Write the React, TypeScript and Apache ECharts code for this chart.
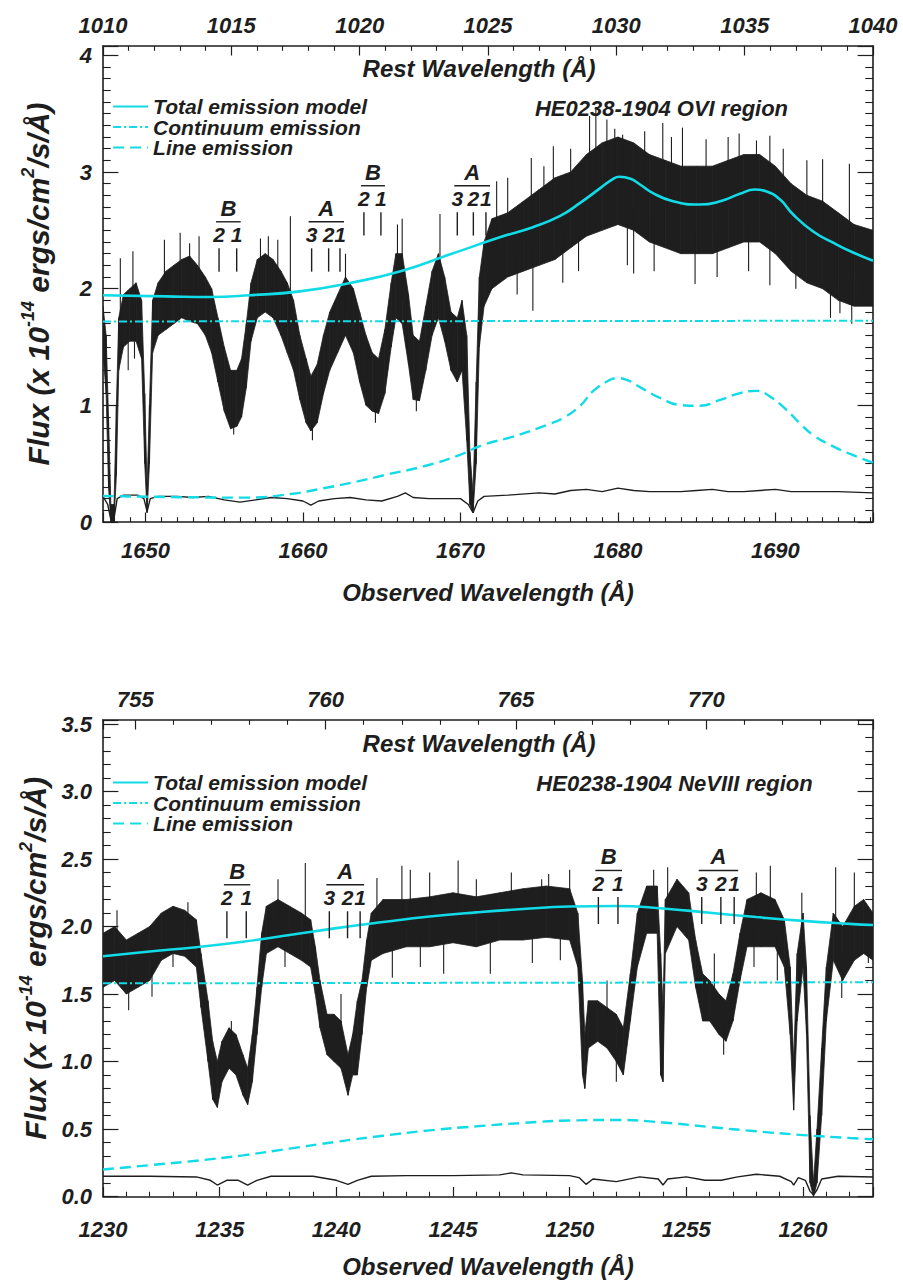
import React, { useEffect, useRef } from 'react';
import * as echarts from 'echarts';

const FONT = '"Liberation Sans", Arial, Helvetica, sans-serif';
const INK = '#1e1e1e';
const CYAN = '#12dbe8';

// ---------------- OVI panel (top) ----------------
const OVI_OBS_RANGE = [1647.3, 1696.2];
const OVI_REST_RANGE = [1010, 1040];
const OVI_FLUX_RANGE = [0, 4.08];

const OVI_SPEC_X = [1647.3, 1647.5, 1647.65, 1647.8, 1648.0, 1648.15, 1648.3, 1648.6, 1649.0, 1649.4, 1649.75, 1649.95, 1650.1, 1650.25, 1650.45, 1650.8, 1651.3, 1651.8, 1652.3, 1652.8, 1653.3, 1653.8, 1654.2, 1654.6, 1655.0, 1655.4, 1655.8, 1656.1, 1656.4, 1656.7, 1657.1, 1657.6, 1658.1, 1658.6, 1659.0, 1659.4, 1659.8, 1660.2, 1660.5, 1660.9, 1661.3, 1661.7, 1662.2, 1662.7, 1663.2, 1663.6, 1664.0, 1664.4, 1664.8, 1665.2, 1665.6, 1665.9, 1666.3, 1666.7, 1667.0, 1667.4, 1667.8, 1668.2, 1668.6, 1669.0, 1669.4, 1669.8, 1670.1, 1670.4, 1670.6, 1670.8, 1671.0, 1671.2, 1671.5, 1672, 1673, 1674, 1675, 1676, 1677, 1678, 1679, 1680, 1681, 1682, 1683, 1684, 1685, 1686, 1687, 1688, 1689, 1690, 1691, 1692, 1693, 1694, 1695, 1696.2];
const OVI_SPEC_LO = [1.45, 1.1, 0.3, 0.0, 0.0, 0.4, 1.3, 1.5, 1.55, 1.55, 1.4, 0.5, 0.08, 0.5, 1.45, 1.6, 1.65, 1.7, 1.75, 1.72, 1.7, 1.6, 1.45, 1.2, 0.95, 0.8, 0.82, 0.9, 1.15, 1.55, 1.75, 1.8, 1.75, 1.6, 1.45, 1.3, 1.05, 0.85, 0.78, 0.85, 1.1, 1.3, 1.45, 1.6, 1.45, 1.2, 1.0, 0.95, 0.93, 1.1, 1.5, 1.75, 1.7, 1.35, 1.05, 1.04, 1.3, 1.6, 1.75, 1.55, 1.3, 1.2, 1.3, 0.7, 0.15, 0.08, 0.5, 1.5, 1.85, 2.0, 2.1, 2.15, 2.2, 2.25, 2.35, 2.45, 2.5, 2.55, 2.5, 2.4, 2.35, 2.3, 2.3, 2.3, 2.35, 2.4, 2.4, 2.3, 2.15, 2.05, 2.0, 1.9, 1.85, 1.85];
const OVI_SPEC_HI = [1.85, 1.6, 0.9, 0.15, 0.15, 1.0, 1.75, 1.95, 2.0, 2.05, 1.9, 1.1, 0.3, 1.0, 1.9, 2.05, 2.15, 2.2, 2.25, 2.28, 2.2, 2.1, 2.0, 1.75, 1.5, 1.3, 1.3, 1.4, 1.7, 2.05, 2.25, 2.3, 2.25, 2.15, 2.05, 1.9, 1.6, 1.4, 1.25, 1.35, 1.6, 1.8, 1.95, 2.1, 2.0, 1.8, 1.6, 1.45, 1.4, 1.65, 2.05, 2.3, 2.3, 1.95, 1.6, 1.55, 1.85, 2.15, 2.3, 2.1, 1.8, 1.75, 1.9, 1.6, 0.6, 0.25, 1.2, 2.1, 2.4, 2.6, 2.65, 2.75, 2.85, 2.95, 3.0, 3.15, 3.25, 3.3, 3.25, 3.15, 3.1, 3.05, 3.05, 3.05, 3.1, 3.15, 3.15, 3.05, 2.9, 2.8, 2.75, 2.65, 2.55, 2.5];
// noise spikes: [wavelength, from, to]
const OVI_SPIKES = [
  [1648.4, 1.7, 2.26], [1649.2, 1.7, 2.32], [1648.9, 1.7, 1.3], [1649.3, 1.7, 1.4], [1651.2, 1.9, 2.42],
  [1652.2, 1.9, 2.48], [1652.8, 1.9, 2.39], [1653.4, 1.9, 2.45], [1655.6, 1.0, 0.75], [1657.3, 1.9, 2.43],
  [1657.8, 2.0, 2.45], [1658.4, 1.9, 2.42], [1659.2, 1.8, 2.62], [1660.6, 1.0, 0.7], [1662.7, 1.8, 2.3],
  [1664.6, 1.1, 0.85], [1666.0, 2.0, 2.55], [1666.3, 1.9, 2.6], [1667.2, 1.2, 0.95], [1668.7, 1.9, 2.64],
  [1672.3, 2.3, 2.92], [1673.0, 2.4, 2.95], [1673.6, 2.3, 1.95], [1674.5, 2.5, 3.12], [1674.6, 2.4, 1.81],
  [1675.3, 2.5, 3.05], [1675.9, 2.6, 3.22], [1676.5, 2.5, 2.05], [1677.0, 2.7, 3.2], [1677.5, 2.6, 2.15],
  [1678.2, 2.8, 3.48], [1678.6, 2.8, 3.55], [1679.3, 2.8, 3.45], [1679.8, 2.9, 3.37], [1680.3, 2.9, 3.32],
  [1680.6, 2.7, 2.2], [1681.0, 2.7, 2.13], [1681.7, 2.8, 3.35], [1682.3, 2.6, 2.15], [1682.85, 2.8, 3.42],
  [1683.4, 2.7, 3.3], [1684.1, 2.7, 3.38], [1684.9, 2.5, 2.04], [1685.6, 2.7, 3.28], [1686.3, 2.5, 2.1],
  [1687.0, 2.7, 3.3], [1687.7, 2.7, 3.33], [1688.3, 2.6, 2.15], [1688.8, 2.8, 3.27], [1689.65, 2.8, 3.31],
  [1689.65, 2.5, 2.03], [1690.5, 2.7, 3.2], [1691.3, 2.5, 2.0], [1692.0, 2.6, 3.1], [1693.0, 2.5, 3.11],
  [1693.5, 2.1, 1.75], [1694.1, 2.1, 1.79], [1694.7, 2.4, 3.07], [1694.85, 2.1, 1.7], [1695.5, 2.1, 1.9],
];
const OVI_ERR_X = [1647.3, 1647.6, 1647.8, 1648.0, 1648.2, 1648.6, 1649.5, 1649.9, 1650.1, 1650.3, 1650.8, 1652, 1653, 1654, 1655, 1656, 1657, 1658, 1659, 1660, 1660.5, 1661, 1662, 1663, 1664, 1665, 1666, 1666.5, 1667, 1668, 1669, 1670, 1670.5, 1670.8, 1671.1, 1671.5, 1673, 1675, 1676, 1677, 1678, 1679, 1680, 1681, 1682, 1684, 1685, 1686, 1687, 1688, 1689, 1690, 1691, 1692, 1694, 1696.2];
const OVI_ERR = [0.22, 0.15, 0.02, 0.03, 0.2, 0.23, 0.23, 0.2, 0.09, 0.2, 0.22, 0.22, 0.21, 0.22, 0.19, 0.17, 0.19, 0.21, 0.2, 0.18, 0.145, 0.18, 0.2, 0.21, 0.19, 0.18, 0.22, 0.25, 0.21, 0.2, 0.2, 0.2, 0.15, 0.08, 0.18, 0.22, 0.23, 0.25, 0.24, 0.27, 0.28, 0.26, 0.29, 0.27, 0.26, 0.26, 0.27, 0.28, 0.26, 0.26, 0.27, 0.28, 0.26, 0.26, 0.26, 0.25];
const OVI_TOTAL_X = [1647.3, 1651.3, 1654.1, 1656.6, 1659.8, 1663.0, 1666.2, 1669.3, 1672.5, 1674.6, 1676.3, 1677.6, 1678.9, 1679.7, 1680.1, 1680.8, 1681.4, 1682.2, 1683.5, 1685.2, 1686.5, 1687.75, 1688.7, 1689.4, 1690.3, 1691.1, 1692.4, 1693.7, 1694.9, 1696.2];
const OVI_TOTAL = [1.943, 1.934, 1.929, 1.943, 1.977, 2.049, 2.149, 2.292, 2.44, 2.527, 2.621, 2.735, 2.864, 2.942, 2.959, 2.942, 2.893, 2.821, 2.749, 2.721, 2.749, 2.813, 2.85, 2.835, 2.764, 2.64, 2.49, 2.392, 2.312, 2.24];
const OVI_CONT_X = [1647.3, 1672, 1696.2];
const OVI_CONT = [1.719, 1.722, 1.725];
const OVI_LINE_X = [1647.3, 1652.8, 1656.6, 1659.2, 1661.3, 1663.4, 1665.5, 1667.6, 1669.8, 1671.45, 1673.35, 1675.5, 1676.5, 1677.6, 1678.4, 1679.3, 1679.9, 1680.55, 1681.4, 1682.7, 1683.9, 1685.2, 1686.5, 1687.75, 1688.8, 1689.65, 1690.7, 1691.6, 1692.4, 1693.7, 1694.9, 1696.2];
const OVI_LINE = [0.223, 0.212, 0.209, 0.24, 0.289, 0.346, 0.412, 0.475, 0.567, 0.661, 0.732, 0.833, 0.89, 0.996, 1.119, 1.204, 1.233, 1.219, 1.156, 1.062, 1.004, 0.996, 1.047, 1.105, 1.124, 1.076, 0.961, 0.84, 0.745, 0.646, 0.575, 0.509];
const OVI_MARKS = [
  { letter: 'B', ticks: [1654.67, 1655.79], nums: ['2', '1'], base: 2.146 },
  { letter: 'A', ticks: [1660.55, 1661.63, 1662.35], nums: ['3', '2', '1'], base: 2.146 },
  { letter: 'B', ticks: [1663.87, 1664.95], nums: ['2', '1'], base: 2.455 },
  { letter: 'A', ticks: [1669.8, 1670.82, 1671.62], nums: ['3', '2', '1'], base: 2.455 },
];

// ---------------- NeVIII panel (bottom) ----------------
const NE_OBS_RANGE = [1230, 1263];
const NE_REST_RANGE = [754.15, 774.38];
const NE_FLUX_RANGE = [0, 3.53];

const NE_SPEC_X = [1230.0, 1230.5, 1231.0, 1231.5, 1232.0, 1232.5, 1233.0, 1233.5, 1234.0, 1234.2, 1234.5, 1234.7, 1234.9, 1235.1, 1235.4, 1235.7, 1236.0, 1236.2, 1236.4, 1236.6, 1236.8, 1237.0, 1237.5, 1238.0, 1238.5, 1238.9, 1239.1, 1239.3, 1239.6, 1239.9, 1240.2, 1240.5, 1240.7, 1240.9, 1241.1, 1241.3, 1241.5, 1242.0, 1243.0, 1244.0, 1245.0, 1246.0, 1247.0, 1248.0, 1249.0, 1250.0, 1250.35, 1250.55, 1250.65, 1250.8, 1251.2, 1251.6, 1252.0, 1252.3, 1252.6, 1252.9, 1253.3, 1253.75, 1253.9, 1254.0, 1254.1, 1254.6, 1255.1, 1255.4, 1255.7, 1256.0, 1256.4, 1256.7, 1257.0, 1257.3, 1257.6, 1258.2, 1258.8, 1259.2, 1259.45, 1259.6, 1259.75, 1260.0, 1260.15, 1260.3, 1260.45, 1260.6, 1260.8, 1261.0, 1261.3, 1261.7, 1262.2, 1262.6, 1263.0];
const NE_SPEC_LO = [1.55, 1.6, 1.5, 1.55, 1.6, 1.75, 1.8, 1.78, 1.7, 1.4, 1.0, 0.72, 0.66, 0.85, 0.95, 0.9, 0.75, 0.68, 0.85, 1.2, 1.55, 1.8, 1.85, 1.8, 1.75, 1.7, 1.5, 1.25, 1.05, 1.0, 0.95, 0.75, 0.9, 0.9, 1.2, 1.55, 1.75, 1.8, 1.85, 1.85, 1.88, 1.85, 1.9, 1.9, 1.92, 1.9, 1.7, 0.9, 0.8, 1.1, 1.15, 1.1, 1.0, 0.9, 1.3, 1.7, 1.95, 1.95, 0.9, 0.85, 1.8, 2.0, 1.9, 1.55, 1.3, 1.3, 1.2, 1.15, 1.3, 1.6, 1.85, 1.85, 1.85, 1.7, 1.2, 0.64, 1.3, 1.7, 1.2, 0.1, 0.0, 0.1, 0.6, 1.3, 1.75, 1.6, 1.75, 1.8, 1.75];
const NE_SPEC_HI = [1.95, 2.0, 1.9, 1.95, 2.0, 2.1, 2.15, 2.12, 2.05, 1.8, 1.45, 1.15, 1.0, 1.15, 1.25, 1.2, 1.05, 0.95, 1.2, 1.55, 1.95, 2.15, 2.2, 2.15, 2.1, 2.05, 1.85, 1.6, 1.35, 1.35, 1.3, 1.05, 1.2, 1.45, 1.6, 1.9, 2.1, 2.2, 2.2, 2.22, 2.25, 2.22, 2.25, 2.28, 2.3, 2.28, 2.1, 1.6, 1.2, 1.45, 1.45, 1.4, 1.35, 1.25, 1.65, 2.1, 2.3, 2.3, 1.8, 1.4, 2.2, 2.35, 2.25, 1.9, 1.65, 1.6, 1.5, 1.45, 1.65, 1.95, 2.2, 2.25, 2.2, 2.05, 1.7, 1.0, 1.8, 2.1, 1.7, 0.6, 0.1, 0.5, 1.1, 1.7, 2.1, 2.0, 2.15, 2.2, 2.1];
const NE_SPIKES = [
  [1230.6, 1.8, 2.12], [1231.1, 1.7, 1.38], [1232.1, 1.7, 1.48], [1233.0, 1.9, 1.7], [1233.64, 2.0, 2.18],
  [1235.5, 1.1, 1.3], [1237.5, 2.0, 2.35], [1237.8, 1.95, 1.7], [1238.67, 2.0, 2.47], [1240.2, 1.2, 1.5],
  [1241.74, 2.0, 2.36], [1242.4, 1.9, 1.62], [1242.81, 2.1, 2.45], [1243.17, 2.1, 2.42], [1243.6, 1.95, 1.7],
  [1244.0, 2.1, 2.4], [1244.6, 1.95, 1.65], [1245.22, 2.1, 2.49], [1246.0, 2.1, 2.35], [1246.6, 1.9, 1.65],
  [1247.5, 2.1, 2.4], [1248.4, 1.95, 1.73], [1248.8, 2.1, 2.35], [1249.1, 2.1, 2.39], [1249.6, 1.95, 1.75],
  [1250.0, 2.1, 2.42], [1251.6, 1.3, 1.6], [1252.0, 1.1, 0.85], [1253.6, 2.1, 2.42], [1254.2, 2.1, 2.44],
  [1256.2, 1.5, 1.8], [1256.6, 1.3, 1.05], [1257.9, 2.0, 1.7], [1258.0, 2.1, 2.4], [1258.6, 2.1, 2.45],
  [1258.9, 1.95, 1.6], [1259.95, 2.0, 2.25], [1261.4, 2.0, 2.44], [1261.66, 1.8, 1.47], [1262.2, 2.0, 2.4],
  [1262.8, 1.9, 1.73],
];
const NE_ERR_X = [1230, 1232, 1234, 1234.6, 1234.9, 1235.3, 1235.8, 1236.2, 1236.6, 1237.2, 1239, 1240, 1240.5, 1240.9, 1241.5, 1243, 1245, 1247, 1247.5, 1248, 1250, 1250.4, 1250.7, 1251, 1252, 1253, 1253.8, 1254, 1254.2, 1255, 1255.8, 1256.5, 1257.2, 1258, 1259, 1259.5, 1259.6, 1259.8, 1260.1, 1260.3, 1260.45, 1260.6, 1260.8, 1261.5, 1263];
const NE_ERR = [0.15, 0.15, 0.145, 0.12, 0.085, 0.12, 0.12, 0.085, 0.12, 0.15, 0.15, 0.12, 0.09, 0.12, 0.15, 0.155, 0.155, 0.16, 0.175, 0.16, 0.155, 0.14, 0.09, 0.13, 0.11, 0.145, 0.13, 0.085, 0.13, 0.145, 0.12, 0.12, 0.145, 0.165, 0.15, 0.11, 0.085, 0.14, 0.12, 0.04, 0.01, 0.05, 0.13, 0.15, 0.145];
const NE_TOTAL_X = [1230, 1232, 1234, 1236, 1238, 1240, 1242, 1244, 1246, 1248, 1250, 1252, 1254, 1256, 1258, 1260, 1262, 1263];
const NE_TOTAL = [1.78, 1.815, 1.847, 1.887, 1.937, 1.988, 2.033, 2.074, 2.105, 2.13, 2.148, 2.152, 2.134, 2.102, 2.07, 2.042, 2.02, 2.011];
const NE_CONT_X = [1230, 1246, 1263];
const NE_CONT = [1.579, 1.583, 1.587];
const NE_LINE_X = [1230, 1232, 1234, 1236, 1238, 1240, 1242, 1244, 1246, 1248, 1250, 1252, 1254, 1256, 1258, 1260, 1262, 1263];
const NE_LINE = [0.2, 0.232, 0.265, 0.305, 0.355, 0.405, 0.45, 0.49, 0.52, 0.545, 0.563, 0.567, 0.548, 0.515, 0.483, 0.455, 0.433, 0.424];
const NE_MARKS = [
  { letter: 'B', ticks: [1235.31, 1236.14], nums: ['2', '1'], base: 1.913 },
  { letter: 'A', ticks: [1239.7, 1240.48, 1241.02], nums: ['3', '2', '1'], base: 1.913 },
  { letter: 'B', ticks: [1251.23, 1252.07], nums: ['2', '1'], base: 2.019 },
  { letter: 'A', ticks: [1255.66, 1256.48, 1257.05], nums: ['3', '2', '1'], base: 2.019 },
];

const LEGEND_NAMES = ['Total emission model', 'Continuum emission', 'Line emission'];
const Y_TITLE = '{n|Flux (x 10}{s|-14}{n| ergs/cm}{s|2}{n|/s/Å)}';

const zip = (xs: number[], ys: number[]) => xs.map((x, i) => [x, ys[i]]);

const txt = {
  fontFamily: FONT,
  fontStyle: 'italic' as const,
  fontWeight: 'bold' as const,
  color: INK,
};

function bandSeries(xi: number, xs: number[], lo: number[], hi: number[]) {
  const n = xs.length;
  return {
    type: 'custom',
    xAxisIndex: xi,
    yAxisIndex: xi,
    clip: true,
    silent: true,
    encode: { x: 0, y: 1 },
    data: xs.map((x, i) => [x, lo[i], hi[i]]),
    renderItem: (params: any, api: any) => {
      const i = params.dataIndexInside;
      if (i >= n - 1) return null;
      const a = api.coord([api.value(0), api.value(2)]);
      const b = api.coord([api.value(0, i + 1), api.value(2, i + 1)]);
      const c = api.coord([api.value(0, i + 1), api.value(1, i + 1)]);
      const d = api.coord([api.value(0), api.value(1)]);
      return {
        type: 'polygon',
        shape: { points: [a, b, c, d] },
        style: { fill: INK, stroke: INK, lineWidth: 0.8, lineJoin: 'round' },
      };
    },
    z: 2,
  };
}

function spikeSeries(xi: number, spikes: number[][]) {
  return {
    type: 'custom',
    xAxisIndex: xi,
    yAxisIndex: xi,
    clip: true,
    silent: true,
    encode: { x: 0, y: 1 },
    data: spikes,
    renderItem: (params: any, api: any) => {
      const p = api.coord([api.value(0), api.value(1)]);
      const q = api.coord([api.value(0), api.value(2)]);
      return {
        type: 'line',
        shape: { x1: p[0], y1: p[1], x2: q[0], y2: q[1] },
        style: { stroke: INK, lineWidth: 1.1 },
      };
    },
    z: 2,
  };
}

function markSeries(xi: number, marks: any[]) {
  return {
    type: 'custom',
    xAxisIndex: xi,
    yAxisIndex: xi,
    silent: true,
    encode: { x: 0, y: 1 },
    data: marks.map((m) => [m.ticks[0], m.base]),
    renderItem: (params: any, api: any) => {
      const m = marks[params.dataIndex];
      const children: any[] = [];
      let topY = 0;
      const xsPix: number[] = [];
      m.ticks.forEach((t: number, k: number) => {
        const p0 = api.coord([t, m.base]);
        const p1 = api.coord([t, m.base + 0.2]);
        topY = p1[1];
        xsPix.push(p0[0]);
        children.push({
          type: 'line',
          shape: { x1: p0[0], y1: p0[1], x2: p1[0], y2: p1[1] },
          style: { stroke: INK, lineWidth: 1.4 },
        });
        children.push({
          type: 'text',
          x: p0[0],
          y: p1[1] - 13.5,
          style: {
            text: m.nums[k],
            fill: INK,
            fontFamily: FONT,
            fontStyle: 'italic',
            fontWeight: 'bold',
            fontSize: 21,
            align: 'center',
            verticalAlign: 'middle',
          },
        });
      });
      const barY = topY - 13.5 - 13;
      const xl = xsPix[0] - 3;
      const xr = xsPix[xsPix.length - 1] + 4;
      children.push({
        type: 'line',
        shape: { x1: xl, y1: barY, x2: xr, y2: barY },
        style: { stroke: INK, lineWidth: 1.4 },
      });
      children.push({
        type: 'text',
        x: (xl + xr) / 2,
        y: barY - 13.5,
        style: {
          text: m.letter,
          fill: INK,
          fontFamily: FONT,
          fontStyle: 'italic',
          fontWeight: 'bold',
          fontSize: 22,
          align: 'center',
          verticalAlign: 'middle',
        },
      });
      return { type: 'group', children };
    },
    z: 6,
  };
}

function modelSeries(xi: number, tx: number[], tv: number[], cx: number[], cv: number[], lx: number[], lv: number[]) {
  return [
    {
      type: 'line',
      name: LEGEND_NAMES[0],
      xAxisIndex: xi,
      yAxisIndex: xi,
      data: zip(tx, tv),
      symbol: 'none',
      smooth: 0.5,
      lineStyle: { color: CYAN, width: 2.6 },
      itemStyle: { color: CYAN },
      z: 5,
    },
    {
      type: 'line',
      name: LEGEND_NAMES[1],
      xAxisIndex: xi,
      yAxisIndex: xi,
      data: zip(cx, cv),
      symbol: 'none',
      lineStyle: { color: CYAN, width: 2, type: [8, 3, 2, 3] },
      itemStyle: { color: CYAN },
      z: 5,
    },
    {
      type: 'line',
      name: LEGEND_NAMES[2],
      xAxisIndex: xi,
      yAxisIndex: xi,
      data: zip(lx, lv),
      symbol: 'none',
      smooth: 0.5,
      lineStyle: { color: CYAN, width: 2.4, type: [11, 6] },
      itemStyle: { color: CYAN },
      z: 5,
    },
  ];
}

function errSeries(xi: number, xs: number[], vs: number[]) {
  return {
    type: 'line',
    xAxisIndex: xi,
    yAxisIndex: xi,
    data: zip(xs, vs),
    symbol: 'none',
    silent: true,
    lineStyle: { color: INK, width: 1.4 },
    z: 3,
  };
}

const isMult = (v: number, step: number) => Math.abs(v / step - Math.round(v / step)) < 1e-6;

function xAxes(grid: number, obs: number[], rest: number[], obsStep: number, obsMinor: number, bottomMargin: number) {
  const line = { onZero: false, lineStyle: { color: INK, width: 1.6 } };
  return [
    {
      type: 'value',
      gridIndex: grid,
      position: 'bottom',
      min: obs[0],
      max: obs[1],
      splitNumber: Math.round((obs[1] - obs[0]) / obsStep),
      axisLine: line,
      axisTick: { inside: true, length: 9.5, lineStyle: { color: INK, width: 1.2 } },
      minorTick: { show: true, splitNumber: obsMinor, length: 4.8, lineStyle: { color: INK, width: 1.1 } },
      splitLine: { show: false },
      minorSplitLine: { show: false },
      axisLabel: {
        ...txt,
        fontSize: 22,
        margin: bottomMargin,
        formatter: (v: number) => (isMult(v, obsStep) ? String(Math.round(v)) : ''),
      },
      name: 'Observed Wavelength (Å)',
      nameLocation: 'middle',
      nameGap: 58,
      nameTextStyle: { ...txt, fontSize: 24 },
    },
    {
      type: 'value',
      gridIndex: grid,
      position: 'top',
      min: rest[0],
      max: rest[1],
      splitNumber: Math.round((rest[1] - rest[0]) / 5),
      axisLine: line,
      axisTick: { inside: true, length: 9.5, lineStyle: { color: INK, width: 1.2 } },
      minorTick: { show: true, splitNumber: 5, length: 4.8, lineStyle: { color: INK, width: 1.1 } },
      splitLine: { show: false },
      minorSplitLine: { show: false },
      axisLabel: {
        ...txt,
        fontSize: 22,
        margin: 10,
        formatter: (v: number) => (isMult(v, 5) ? String(Math.round(v)) : ''),
      },
    },
  ];
}

function yAxes(grid: number, range: number[], step: number, minor: number, digits: number) {
  const line = { onZero: false, lineStyle: { color: INK, width: 1.6 } };
  const base = {
    type: 'value',
    gridIndex: grid,
    min: range[0],
    max: range[1],
    interval: step,
    axisLine: line,
    axisTick: { inside: true, length: 15.4, lineStyle: { color: INK, width: 1.2 } },
    minorTick: { show: true, splitNumber: minor, length: 7.7, lineStyle: { color: INK, width: 1.1 } },
    splitLine: { show: false },
    minorSplitLine: { show: false },
  };
  return [
    {
      ...base,
      position: 'left',
      axisLabel: {
        ...txt,
        fontSize: 22,
        margin: 11,
        formatter: (v: number) => (isMult(v, step) ? v.toFixed(digits) : ''),
      },
      name: Y_TITLE,
      nameLocation: 'middle',
      nameRotate: 90,
      nameGap: 50,
      nameTextStyle: {
        rich: {
          n: { ...txt, fontSize: 30, lineHeight: 34, verticalAlign: 'bottom' },
          s: { ...txt, fontSize: 18, lineHeight: 19, verticalAlign: 'top' },
        },
      },
    },
    { ...base, position: 'right', axisLabel: { show: false } },
  ];
}

function legend(top: number, gap: number) {
  return {
    orient: 'vertical',
    left: 112,
    top,
    padding: 0,
    itemWidth: 35,
    itemHeight: 12,
    itemGap: gap,
    selectedMode: false,
    data: LEGEND_NAMES,
    textStyle: { ...txt, fontSize: 21, lineHeight: 20 },
    itemStyle: { color: 'rgba(0,0,0,0)', borderWidth: 0, opacity: 0 },
    lineStyle: { width: 2.2 },
  };
}

function label(text: string, x: number, y: number, size: number) {
  return {
    type: 'text',
    x,
    y,
    silent: true,
    style: {
      text,
      fill: INK,
      fontFamily: FONT,
      fontStyle: 'italic',
      fontWeight: 'bold',
      fontSize: size,
      align: 'center',
      verticalAlign: 'middle',
    },
    z: 10,
  };
}

function buildOption() {
  return {
    animation: false,
    backgroundColor: '#ffffff',
    grid: [
      { left: 103, top: 46, width: 770, height: 476 },
      { left: 103, top: 720, width: 770, height: 476.5 },
    ],
    xAxis: [
      ...xAxes(0, OVI_OBS_RANGE, OVI_REST_RANGE, 10, 10, 17),
      ...xAxes(1, NE_OBS_RANGE, NE_REST_RANGE, 5, 5, 22),
    ],
    yAxis: [...yAxes(0, OVI_FLUX_RANGE, 1, 10, 0), ...yAxes(1, NE_FLUX_RANGE, 0.5, 5, 1)],
    legend: [legend(96, -0.5), legend(772, -0.5)],
    graphic: [
      label('Rest Wavelength (Å)', 479, 68, 24),
      label('HE0238-1904 OVI region', 661.5, 108, 22),
      label('Rest Wavelength (Å)', 479, 743, 24),
      label('HE0238-1904 NeVIII region', 674.5, 783, 22),
    ],
    series: [
      bandSeries(0, OVI_SPEC_X, OVI_SPEC_LO, OVI_SPEC_HI),
      spikeSeries(0, OVI_SPIKES),
      errSeries(0, OVI_ERR_X, OVI_ERR),
      ...modelSeries(0, OVI_TOTAL_X, OVI_TOTAL, OVI_CONT_X, OVI_CONT, OVI_LINE_X, OVI_LINE),
      markSeries(0, OVI_MARKS),
      bandSeries(2, NE_SPEC_X, NE_SPEC_LO, NE_SPEC_HI),
      spikeSeries(2, NE_SPIKES),
      errSeries(2, NE_ERR_X, NE_ERR),
      ...modelSeries(2, NE_TOTAL_X, NE_TOTAL, NE_CONT_X, NE_CONT, NE_LINE_X, NE_LINE),
      markSeries(2, NE_MARKS),
    ],
  };
}

export default function App() {
  const ref = useRef<HTMLDivElement>(null);
  useEffect(() => {
    if (!ref.current) return;
    const chart = echarts.init(ref.current, null, { renderer: 'svg' });
    chart.setOption(buildOption() as any);
    return () => chart.dispose();
  }, []);
  return (
    <div
      ref={ref}
      style={{ position: 'absolute', left: 0, top: 0, width: 903, height: 1281, background: '#fff' }}
    />
  );
}
